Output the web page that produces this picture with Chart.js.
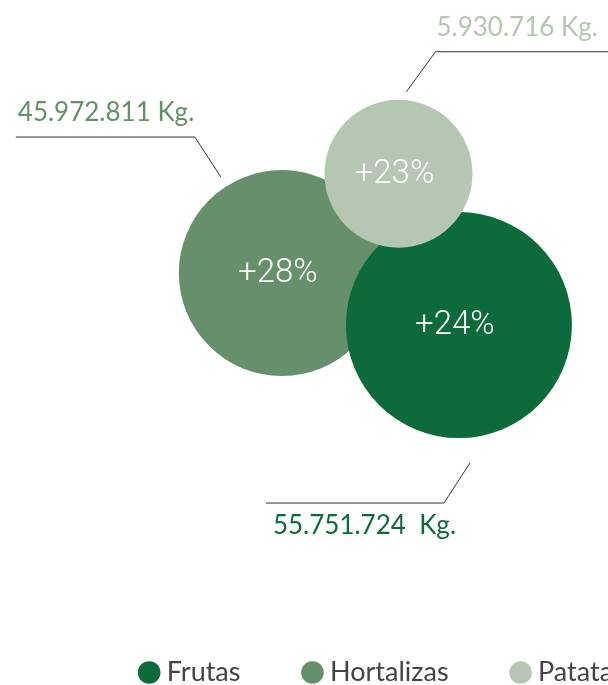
<!DOCTYPE html>
<html>
<head>
<meta charset="utf-8">
<script src="https://cdn.jsdelivr.net/npm/chart.js@4"></script>
<style>
  html, body { margin: 0; padding: 0; background: #fff; overflow: hidden; }
  #wrap { width: 770px; height: 685px; }
</style>
</head>
<body>
<div id="wrap"><canvas id="chart" width="770" height="685"></canvas></div>
<script>
// data
const categories = ['Frutas', 'Hortalizas', 'Patatas'];
const xValues = [59.6, 36.6, 51.75];
const yValues = [45.0, 53.8, 70.6];
const sizes = [113, 103, 74];
const percentLabels = ['+24%', '+28%', '+23%'];
const kgLabels = ['55.751.724  Kg.', '45.972.811 Kg.', '5.930.716 Kg.'];
const colors = ['#0d6b3b', '#668f6b', '#b5c6b2'];
// which bubble is drawn on top (lower = on top)
const drawOrder = [2, 3, 1];

// callout offsets from bubble centre: start, elbow, end of line, text anchor
const callouts = [
  { start: [11, 138], elbow: [-15, 178], end: [-193, 178], text: [-186, 201] },
  { start: [-61, -96], elbow: [-87, -136], end: [-266, -136], text: [-264, -160] },
  { start: [8, -82], elbow: [37, -122], end: [400, -122], text: [38, -146] }
];

/* draws the percent inside each bubble and the kg callouts */
const labelPlugin = {
  id: 'labels',
  afterDatasetsDraw(chart) {
    const ctx = chart.ctx;
    ctx.save();
    chart.data.datasets.forEach((ds, i) => {
      const pt = chart.getDatasetMeta(i).data[0];
      const cx = pt.x, cy = pt.y;
      // percent in the middle
      ctx.fillStyle = '#ffffff';
      ctx.font = '300 33px Roboto';
      ctx.textAlign = 'center';
      ctx.textBaseline = 'middle';
      ctx.fillText(percentLabels[i], cx - 4, cy + 1);
      // callout line
      const c = callouts[i];
      ctx.strokeStyle = '#333333';
      ctx.lineWidth = 1;
      ctx.beginPath();
      ctx.moveTo(cx + c.start[0], cy + c.start[1]);
      ctx.lineTo(cx + c.elbow[0], cy + c.elbow[1]);
      ctx.lineTo(cx + c.end[0], cy + c.end[1]);
      ctx.stroke();
      // kg text
      ctx.fillStyle = colors[i];
      ctx.font = '26px Lato';
      ctx.textAlign = 'left';
      ctx.fillText(kgLabels[i], cx + c.text[0], cy + c.text[1]);
    });
    ctx.restore();
  }
};

const ctx = document.getElementById('chart').getContext('2d');
const datasets = categories.map((name, i) => ({
  label: name,
  data: [{ x: xValues[i], y: yValues[i], r: sizes[i] }],
  backgroundColor: colors[i],
  borderWidth: 0,
  hoverRadius: 0,
  order: drawOrder[i],
  clip: false
}));

new Chart(ctx, {
  type: 'bubble',
  data: { datasets: datasets },
  options: {
    responsive: false,
    animation: false,
    events: [],
    layout: { autoPadding: false, padding: 0 },
    scales: {
      x: { display: false, min: 0, max: 100 },
      y: { display: false, min: 0, max: 100 }
    },
    plugins: {
      tooltip: { enabled: false },
      legend: {
        position: 'bottom',
        maxHeight: 94,
        labels: {
          usePointStyle: true,
          pointStyle: 'circle',
          boxWidth: 8,
          boxHeight: 16,
          padding: 68,
          color: '#444444',
          font: { family: 'Lato', size: 27 },
          sort: (a, b) => a.datasetIndex - b.datasetIndex
        }
      }
    }
  },
  plugins: [labelPlugin]
});
</script>
</body>
</html>
